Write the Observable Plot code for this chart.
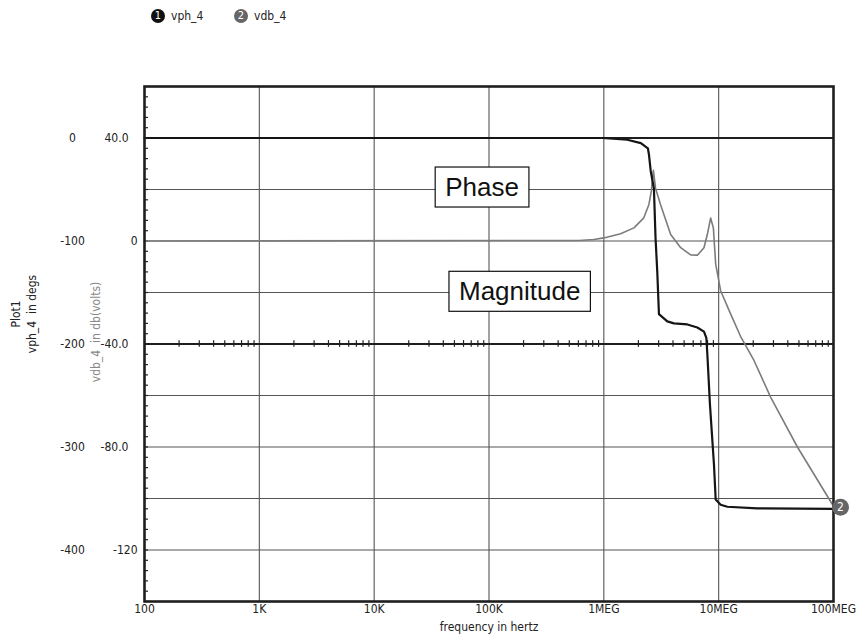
<!DOCTYPE html>
<html><head><meta charset="utf-8">
<script src="https://cdn.jsdelivr.net/npm/d3@7"></script>
<script src="https://cdn.jsdelivr.net/npm/@observablehq/plot@0.6"></script>
<style>
body{margin:0;background:#fff;}
#wrap{position:relative;width:865px;height:641px;}
#legend{position:absolute;left:0;top:0;font-family:'Liberation Sans Narrow','Arial Narrow','DejaVu Sans Condensed',sans-serif;font-size:12px;color:#222;}
.item{position:absolute;top:9px;display:flex;align-items:center;white-space:nowrap;}
.badge{width:14px;height:14px;border-radius:50%;color:#fff;font-size:11px;line-height:14px;text-align:center;margin-right:6px;}
svg{display:block;}
</style></head><body><div id="wrap"><div id="legend"></div></div>
<script>
// ---- data ----
const freqTicks = [100, 1e3, 1e4, 1e5, 1e6, 1e7, 1e8];
const freqLabels = ["100", "1K", "10K", "100K", "1MEG", "10MEG", "100MEG"];
const dbTicks = [40, 0, -40, -80, -120];
const dbLabels = ["40.0", "0", "-40.0", "-80.0", "-120"];
const phaseTicks = [0, -100, -200, -300, -400];
const dbDomain = [-140, 60];
const phaseDomain = [-450, 50];

const phaseFreq = [100, 1e5, 9.7e5, 1.6e6, 2.1e6, 2.42e6, 2.47e6, 2.56e6, 2.73e6, 2.82e6, 2.92e6, 3.02e6, 3.57e6, 4.08e6, 5.34e6, 6.52e6, 7.45e6, 7.81e6, 7.97e6, 8.4e6, 9.1e6, 9.42e6, 1.04e7, 1.19e7, 2.17e7, 1e8];
const phaseDeg  = [0, 0, 0, -1.7, -5, -10, -16, -32, -49, -97, -130, -171, -178, -180, -181, -184, -188, -194, -210, -259, -317, -351, -356, -358, -359.5, -360];

const dbFreq = [100, 6.07e5, 8.2e5, 1.0e6, 1.4e6, 1.83e6, 2.23e6, 2.47e6, 2.59e6, 2.70e6, 2.82e6, 3.12e6, 3.82e6, 4.67e6, 5.70e6, 6.52e6, 7.45e6, 7.97e6, 8.51e6, 8.99e6, 9.42e6, 1.04e7, 1.27e7, 1.55e7, 2.03e7, 2.84e7, 4.85e7, 1e8];
const dbVal  = [0, 0.2, 0.6, 1.2, 2.8, 5.1, 9.0, 14.2, 19.3, 27.5, 20.5, 14.1, 2.5, -2.6, -5.4, -5.5, -2.6, 2.6, 8.9, 5.1, -9.0, -19.3, -28.3, -37, -46.4, -60.7, -80, -103];

const annoText = ["Phase", "Magnitude"];
const annoFreq = [8.7e4, 1.85e5];
const annoDb = [20.7, -19.8];

const legendNames = ["vph_4", "vdb_4"];
const legendColors = ["#111", "#666"];

// ---- derived ----
const phaseToDb = d => dbDomain[0] + (d - phaseDomain[0]) * (dbDomain[1] - dbDomain[0]) / (phaseDomain[1] - phaseDomain[0]);
const phaseData = phaseFreq.map((f, i) => ({f, v: phaseDeg[i]}));
const dbData = dbFreq.map((f, i) => ({f, v: dbVal[i]}));
const annoData = annoText.map((t, i) => ({t, f: annoFreq[i], v: annoDb[i]}));
const gridDb = d3.range(-120, 41, 20).filter(d => d !== 40 && d !== -40);
const majorDb = [40, -40];
const minorDb = d3.range(-140, 61, 4);
const minorFreq = [];
for (let n = 2; n < 8; n++) for (let k = 2; k <= 9; k++) minorFreq.push(k * Math.pow(10, n));
const endPt = dbData[dbData.length - 1];
const hasDot = d => dbLabels[dbTicks.indexOf(d)].includes(".");

const narrow = "'Liberation Sans Narrow','Arial Narrow','DejaVu Sans Condensed',sans-serif";

const svg = Plot.plot({
  width: 865, height: 641,
  marginTop: 86, marginBottom: 40, marginLeft: 144, marginRight: 32,
  style: {fontFamily: narrow, fontSize: "12px", color: "#222", background: "#fff"},
  x: {type: "log", domain: [100, 1e8], axis: null},
  y: {domain: dbDomain, axis: null},
  marks: [
    Plot.ruleY(gridDb, {y: d => d, stroke: "#555", strokeWidth: 1.1}),
    Plot.ruleX(freqTicks.slice(1, -1), {x: d => d, stroke: "#555", strokeWidth: 1.1}),
    Plot.ruleY(majorDb, {y: d => d, stroke: "#1e1e1e", strokeWidth: 2}),
    Plot.ruleX(minorFreq, {x: d => d, y1: -41.3, y2: -38.7, stroke: "#222", strokeWidth: 1.2}),
    Plot.axisY(minorDb, {anchor: "left", label: null, tickSize: -4, tickFormat: () => "", stroke: "#222", strokeWidth: 1.2}),
    Plot.line(dbData, {x: "f", y: "v", stroke: "#7c7c7c", strokeWidth: 1.6}),
    Plot.line(phaseData, {x: "f", y: d => phaseToDb(d.v), stroke: "#151515", strokeWidth: 2.2}),
    Plot.frame({stroke: "#1e1e1e", strokeWidth: 2.6}),
    Plot.text(annoData, {x: "f", y: "v", text: "t", fontSize: 26, fontFamily: "'Liberation Sans',Arial,sans-serif", fill: "#111"}),
    Plot.dot([endPt], {x: "f", y: "v", r: 8.5, fill: "#666", dx: 7, dy: 1}),
    Plot.text([endPt], {x: "f", y: "v", text: () => "2", fill: "#fff", fontSize: 12, dx: 7, dy: 1}),
    // x tick labels
    Plot.text(freqTicks, {x: d => d, text: d => freqLabels[freqTicks.indexOf(d)], frameAnchor: "bottom", dy: 11, fontSize: 12, fill: "#222"}),
    Plot.text(["frequency in hertz"], {text: d => d, frameAnchor: "bottom", dy: 29, fontSize: 12, fill: "#222"}),
    // dB tick labels
    Plot.text(dbTicks.filter(hasDot), {y: d => d, text: d => dbLabels[dbTicks.indexOf(d)], frameAnchor: "left", textAnchor: "end", dx: -16, fontSize: 12, fill: "#222"}),
    Plot.text(dbTicks.filter(d => !hasDot(d)), {y: d => d, text: d => dbLabels[dbTicks.indexOf(d)], frameAnchor: "left", textAnchor: "end", dx: -7, fontSize: 12, fill: "#222"}),
    // phase tick labels
    Plot.text(phaseTicks, {y: d => phaseToDb(d), text: d => String(d), frameAnchor: "left", textAnchor: "middle", dx: -72, fontSize: 12, fill: "#222"}),
    // axis titles
    Plot.text(["Plot1\nvph_4  in degs"], {text: d => d, frameAnchor: "left", textAnchor: "middle", rotate: -90, dx: -122, dy: -30, lineHeight: 1.33, fontSize: 12, fill: "#222"}),
    Plot.text(["vdb_4  in db(volts)"], {text: d => d, frameAnchor: "left", textAnchor: "middle", rotate: -90, dx: -48, dy: -12, fontSize: 12, fill: "#888"})
  ]
});

document.getElementById("wrap").appendChild(svg);

// boxes behind annotation labels
svg.querySelectorAll("text").forEach(t => {
  if (!annoText.includes(t.textContent)) return;
  const b = t.getBBox();
  const r = document.createElementNS("http://www.w3.org/2000/svg", "rect");
  r.setAttribute("x", b.x - 10);
  r.setAttribute("y", b.y - 5);
  r.setAttribute("width", b.width + 20);
  r.setAttribute("height", b.height + 10);
  r.setAttribute("fill", "#fff");
  r.setAttribute("stroke", "#111");
  r.setAttribute("stroke-width", "1.2");
  if (t.getAttribute("transform")) r.setAttribute("transform", t.getAttribute("transform"));
  t.parentNode.insertBefore(r, t);
});

// legend
const leg = document.getElementById("legend");
legendNames.forEach((name, i) => {
  const item = document.createElement("div");
  item.className = "item";
  item.style.left = (151 + i * 83) + "px";
  const badge = document.createElement("span");
  badge.className = "badge";
  badge.style.background = legendColors[i];
  badge.textContent = String(i + 1);
  item.appendChild(badge);
  item.appendChild(document.createTextNode(name));
  leg.appendChild(item);
});
</script>
</body></html>
